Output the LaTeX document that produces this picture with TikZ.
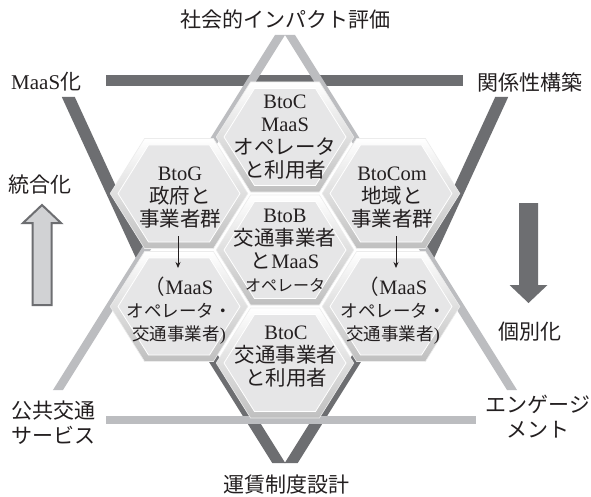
\documentclass[tikz,border=0pt]{standalone}
\usepackage{fontspec}
\setmainfont{Liberation Serif}
\newfontfamily\jp{Noto Sans CJK JP}
\usetikzlibrary{arrows.meta}
\definecolor{darkbar}{HTML}{6D6E71}
\definecolor{lightbar}{HTML}{BCBDC0}
\definecolor{hexfill}{HTML}{E6E6E7}
\definecolor{txt}{HTML}{231F20}
\definecolor{uparrow}{HTML}{D1D2D4}
\newcommand\J[1]{{\jp #1}}
\newcommand\Js[1]{{\jp\fontsize{17.5}{23}\selectfont #1}}
\newcommand\hexcell[2]{%
  \path[draw=white!85!gray, line width=0.6pt, top color=white, bottom color=gray!50]
    (#1-68.8,#2) -- (#1-34.4,#2-55) -- (#1+34.4,#2-55) -- (#1+68.8,#2)
    -- (#1+34.4,#2+55) -- (#1-34.4,#2+55) -- cycle;
  \path[draw=white, line width=0.8pt, fill=hexfill]
    (#1-61,#2) -- (#1-30.5,#2-48.5) -- (#1+30.5,#2-48.5) -- (#1+61,#2)
    -- (#1+30.5,#2+48.5) -- (#1-30.5,#2+48.5) -- cycle;}
\tikzset{
  hextext/.style={align=center, text=txt, inner sep=0pt, font=\fontsize{20.5}{23}\selectfont},
  outlabel/.style={text=txt, inner sep=0pt, font=\fontsize{21}{25}\selectfont\jp},
  darkband/.style={fill=darkbar},
  lightband/.style={fill=lightbar},
  smallarrow/.style={draw=txt, line width=0.8pt, -{Stealth[length=6pt,width=5pt]}}
}
\begin{document}
\begin{tikzpicture}[x=1pt,y=-1pt]
\useasboundingbox (0,0) rectangle (591,497);
\fill[white] (0,0) rectangle (591,497);
% dark inverted triangle
\fill[darkband] (106,75) rectangle (463,86);
\fill[darkband] (61.8,97) -- (74.8,97) -- (152.1,265) -- (139.1,265) -- cycle;
\fill[darkband] (508.2,97) -- (495.2,97) -- (417.9,265) -- (430.9,265) -- cycle;
\fill[darkband] (170.3,300) -- (183.3,300) -- (285.26,463) -- (272.26,463) -- cycle;
\fill[darkband] (399.7,300) -- (386.7,300) -- (284.74,463) -- (297.74,463) -- cycle;
% light upright triangle
\fill[lightband] (275,35) -- (285,35) -- (62.98,390) -- (52.98,390) -- cycle;
\fill[lightband] (295,35) -- (285,35) -- (507.02,390) -- (517.02,390) -- cycle;
\fill[lightband] (106,416) rectangle (476,424);
% hexagons
\hexcell{285}{137}
\hexcell{179}{193.5}
\hexcell{391}{193.5}
\hexcell{285}{250}
\hexcell{179}{306.5}
\hexcell{391}{306.5}
\hexcell{285}{363}
% hexagon texts
\node[hextext] (ctop) at (285,137) {BtoC\\MaaS\\\J{オペレータ}\\\J{と利用者}};
\node[hextext] (gov) at (180,198) {BtoG\\\J{政府と}\\\J{事業者群}};
\node[hextext] (com) at (392,198) {BtoCom\\\J{地域と}\\\J{事業者群}};
\node[hextext] (btob) at (285,251) {BtoB\\\J{交通事業者}\\\J{と}MaaS\\{\fontsize{16}{20}\selectfont\J{オペレータ}}};
\node[hextext] (opl) at (179,311) {\J{（}MaaS\\\Js{オペレータ・}\\\Js{交通事業者}{\fontsize{18}{23}\selectfont)}};
\node[hextext] (opr) at (393,311) {\J{（}MaaS\\\Js{オペレータ・}\\\Js{交通事業者}{\fontsize{18}{23}\selectfont)}};
\node[hextext] (cbot) at (286,357) {BtoC\\\J{交通事業者}\\\J{と利用者}};
% small arrows
\coordinate (gl) at (178,236);
\coordinate (gle) at (178,268);
\coordinate (gr) at (396,236);
\coordinate (gre) at (396,268);
\draw[smallarrow] (gl) -- (gle);
\draw[smallarrow] (gr) -- (gre);
% outer labels
\node[outlabel] (t1) at (285,20) {社会的インパクト評価};
\node[outlabel, anchor=west] (t2) at (11,82) {{\rmfamily MaaS}化};
\node[outlabel, anchor=east] (t3) at (583,82) {関係性構築};
\node[outlabel] (t4) at (40,185) {統合化};
\node[outlabel] (t5) at (530,332) {個別化};
\node[outlabel, anchor=west, align=left] (t6) at (11,423) {公共交通\\サービス};
\node[outlabel, align=center] (t7) at (538,417) {エンゲージ\\メント};
\node[outlabel] (t8) at (286,485) {運賃制度設計};
% big arrows
\draw[fill=uparrow, draw=darkbar, line width=2pt] (42,205) -- (61,223) -- (51.5,223) -- (51.5,305) -- (32.5,305) -- (32.5,223) -- (23,223) -- cycle;
\fill[darkbar] (528.5,303) -- (547.5,285) -- (538,285) -- (538,203) -- (519,203) -- (519,285) -- (509.5,285) -- cycle;
\end{tikzpicture}
\end{document}
